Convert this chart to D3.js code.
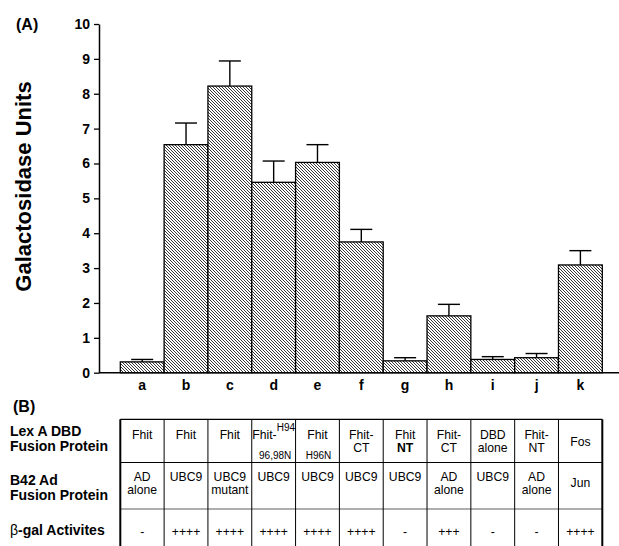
<!DOCTYPE html>
<html>
<head>
<meta charset="utf-8">
<script src="https://cdn.jsdelivr.net/npm/d3@7"></script>
<style>
  html, body { margin: 0; padding: 0; background: #fff; }
  svg { display: block; }
  text { font-family: "Liberation Sans", Arial, Helvetica, sans-serif; fill: #000; }
</style>
</head>
<body>
<svg id="chart" width="619" height="546"></svg>
<script>
// ---------- data ----------
const categories = ["a","b","c","d","e","f","g","h","i","j","k"];
const values     = [0.31, 6.54, 8.22, 5.46, 6.03, 3.75, 0.34, 1.63, 0.38, 0.43, 3.09];
const errors     = [0.07, 0.62, 0.72, 0.61, 0.51, 0.36, 0.09, 0.33, 0.08, 0.12, 0.41];
const yTicks     = [0,1,2,3,4,5,6,7,8,9,10];
const yLabel     = "Galactosidase Units";

// table (B)
const rowLabels  = [["Lex A DBD","Fusion Protein"],["B42 Ad","Fusion Protein"],["\u03B2-gal Activites"]];
const lexALines  = [["Fhit"],["Fhit"],["Fhit"],["Fhit-"],["Fhit"],["Fhit-","CT"],["Fhit","NT"],["Fhit-","CT"],["DBD","alone"],["Fhit-","NT"],["Fos"]];
const lexASup    = ["","","","H94","","","","","","",""];
const lexASub    = ["","","","96,98N","H96N","","","","","",""];
const b42Lines   = [["AD","alone"],["UBC9"],["UBC9","mutant"],["UBC9"],["UBC9"],["UBC9"],["UBC9"],["AD","alone"],["UBC9"],["AD","alone"],["Jun"]];
const activity   = ["-","++++","++++","++++","++++","++++","-","+++","-","-","++++"];

// ---------- chart ----------
const svg = d3.select("#chart");

const defs = svg.append("defs");
const pat = defs.append("pattern")
  .attr("id","hatch").attr("patternUnits","userSpaceOnUse")
  .attr("width",3).attr("height",3);
pat.append("rect").attr("width",3).attr("height",3).attr("fill","#fff");
[0,1,2].forEach(i => pat.append("rect").attr("x",i).attr("y",i).attr("width",1).attr("height",1).attr("fill","#383838"));

const y = d3.scaleLinear().domain([0,10]).range([372.7, 24]);
const x = d3.scaleBand().domain(categories).range([120.3, 602.3]).padding(0);

// baseline
svg.append("line").attr("x1",99).attr("x2",619).attr("y1",y(0)).attr("y2",y(0))
  .attr("stroke","#000").attr("stroke-width",1.5);

// bars
svg.append("g").selectAll("rect").data(categories).join("rect")
  .attr("x", d => x(d)).attr("width", x.bandwidth())
  .attr("y", (d,i) => y(values[i])).attr("height", (d,i) => y(0) - y(values[i]))
  .attr("fill","url(#hatch)").attr("stroke","#000").attr("stroke-width",1.3);

// error bars
const eb = svg.append("g").attr("stroke","#000").attr("stroke-width",1.4);
categories.forEach((c,i) => {
  const cx = x(c) + x.bandwidth()/2;
  eb.append("line").attr("x1",cx).attr("x2",cx).attr("y1",y(values[i])).attr("y2",y(values[i]+errors[i]));
  eb.append("line").attr("x1",cx-11).attr("x2",cx+11).attr("y1",y(values[i]+errors[i])).attr("y2",y(values[i]+errors[i]));
});

// y axis
const yAxis = svg.append("g").attr("transform","translate(99,0)")
  .call(d3.axisLeft(y).tickValues(yTicks).tickSize(5).tickSizeOuter(0).tickPadding(4));
yAxis.select(".domain").attr("stroke-width",1.5);
yAxis.selectAll(".tick line").attr("stroke-width",1.3);
yAxis.selectAll(".tick text").attr("font-size",14).attr("font-weight","bold")
  .attr("font-family","'Liberation Sans', Arial, sans-serif").attr("fill","#000");

// x category labels
svg.append("g").selectAll("text").data(categories).join("text")
  .attr("x", d => x(d) + x.bandwidth()/2).attr("y", 390)
  .attr("text-anchor","middle").attr("font-size",14).attr("font-weight","bold")
  .text(d => d);

// y label
svg.append("text").attr("transform","translate(30.5,186.5) rotate(-90)")
  .attr("text-anchor","middle").attr("font-size",22).attr("font-weight","bold")
  .text(yLabel);

// panel labels
svg.append("text").attr("x",16).attr("y",29.5).attr("font-size",16).attr("font-weight","bold").text("(A)");
svg.append("text").attr("x",13).attr("y",412).attr("font-size",16).attr("font-weight","bold").text("(B)");

// ---------- table ----------
const tTop = 419.3, r1 = 462.5, r2 = 509, tBot = 546;
const tLeft = x.range()[0], tRight = x.range()[1];
const tg = svg.append("g");
tg.append("line").attr("x1",tLeft).attr("x2",tRight).attr("y1",tTop).attr("y2",tTop).attr("stroke","#000").attr("stroke-width",1.3);
tg.append("line").attr("x1",tLeft).attr("x2",tRight).attr("y1",r1).attr("y2",r1).attr("stroke","#000").attr("stroke-width",1);
tg.append("line").attr("x1",tLeft).attr("x2",tRight).attr("y1",r2).attr("y2",r2).attr("stroke","#333").attr("stroke-width",0.8);
// vertical lines
const edges = categories.map(c => x(c)).concat([tRight]);
edges.forEach((ex,i) => {
  const outer = (i === 0 || i === edges.length-1);
  tg.append("line").attr("x1",ex).attr("x2",ex).attr("y1",tTop).attr("y2",tBot)
    .attr("stroke","#000").attr("stroke-width", outer ? 2 : 1);
});

// row labels
const rowLabelY = [[436,451],[484.5,499.5],[535]];
rowLabels.forEach((lines,ri) => {
  lines.forEach((t,li) => {
    const el = svg.append("text").attr("x",10).attr("y",rowLabelY[ri][li])
      .attr("font-size",14).attr("font-weight","bold");
    if (t.startsWith("\u03B2")) {
      el.append("tspan").attr("font-weight","normal").text("\u03B2");
      el.append("tspan").text(t.slice(1));
    } else el.text(t);
  });
});

const cellFont = 12.2;
const lineGap = 13.2;
categories.forEach((c,i) => {
  const cx = x(c) + x.bandwidth()/2;
  // row 1
  const L = lexALines[i];
  if (L.length === 2) {
    L.forEach((t,li) => {
      const bold = (t === "NT" && i === 6);
      svg.append("text").attr("x",cx).attr("y",439 + li*lineGap).attr("text-anchor","middle")
        .attr("font-size",cellFont).attr("font-weight", bold ? "bold" : "normal").text(t);
    });
  } else if (c === "k") {
    svg.append("text").attr("x",cx).attr("y",446).attr("text-anchor","middle").attr("font-size",cellFont).text(L[0]);
  } else {
    const tx = svg.append("text").attr("x",cx).attr("y",438.5).attr("text-anchor","middle").attr("font-size",cellFont);
    tx.append("tspan").text(L[0]);
    if (lexASup[i]) tx.append("tspan").attr("font-size",10).attr("dy",-8).text(lexASup[i]);
    if (lexASub[i]) svg.append("text").attr("x",cx + (lexASup[i] ? 1.5 : 1)).attr("y",459).attr("text-anchor","middle").attr("font-size",10).text(lexASub[i]);
  }
  // row 2
  const B = b42Lines[i];
  if (c === "k") {
    svg.append("text").attr("x",cx).attr("y",487).attr("text-anchor","middle").attr("font-size",cellFont).text(B[0]);
  } else {
    B.forEach((t,li) => {
      svg.append("text").attr("x",cx).attr("y",480.5 + li*lineGap).attr("text-anchor","middle")
        .attr("font-size",cellFont).text(t);
    });
  }
  // row 3
  svg.append("text").attr("x",cx).attr("y",535.5).attr("text-anchor","middle")
    .attr("font-size",cellFont).text(activity[i]);
});
</script>
</body>
</html>
